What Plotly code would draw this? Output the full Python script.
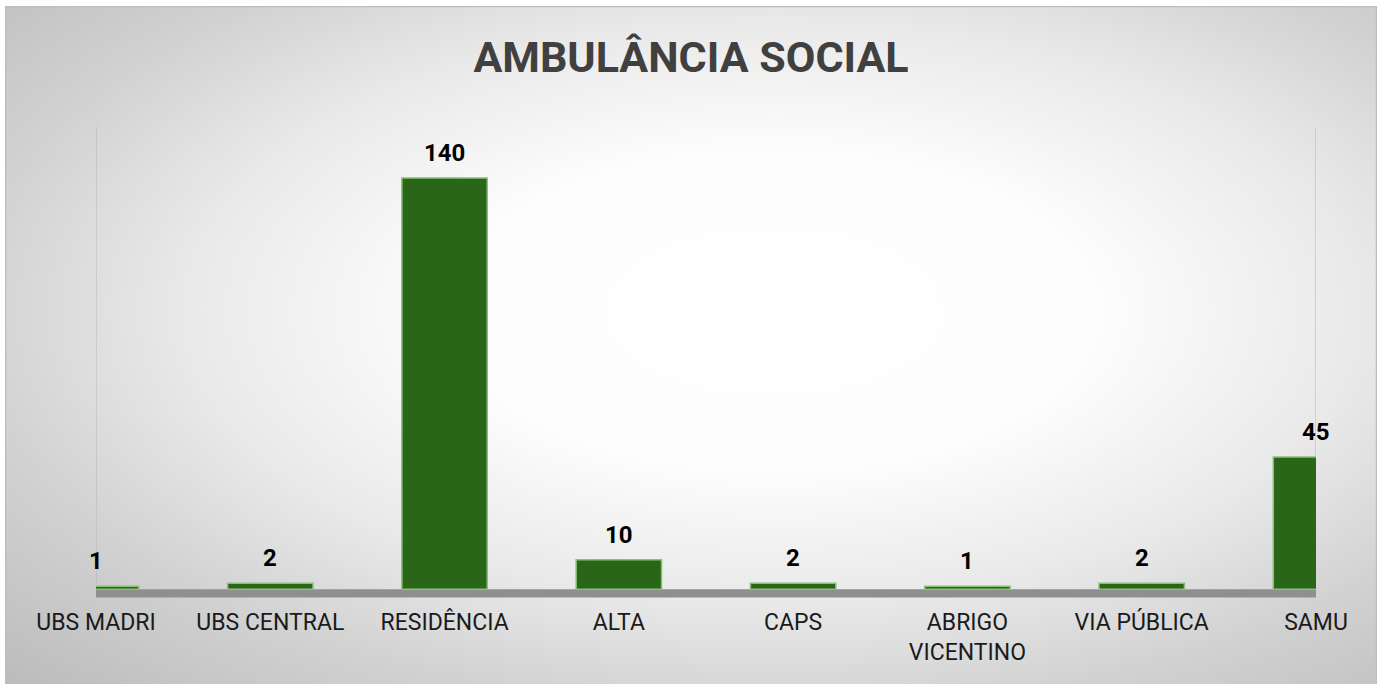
import base64
import plotly.graph_objects as go

categories = ["UBS MADRI", "UBS CENTRAL", "RESIDÊNCIA", "ALTA", "CAPS",
              "ABRIGO<br>VICENTINO", "VIA PÚBLICA", "SAMU"]
values = [1, 2, 140, 10, 2, 1, 2, 45]
title_text = "AMBULÂNCIA SOCIAL"

W, H = 1382, 684
L, R, T, B = 96, 66, 127, 86
plot_w = W - L - R
plot_h = H - T - B
y_min, y_max = -3.0, 157.4

positions = list(range(len(categories)))

# background radial gradient (SVG)
svg = f'''<svg xmlns="http://www.w3.org/2000/svg" width="1372" height="678" viewBox="0 0 1372 678" preserveAspectRatio="none">
<defs><radialGradient id="g" cx="0.56" cy="0.45" r="0.78" fx="0.56" fy="0.45">
<stop offset="0" stop-color="#ffffff"/>
<stop offset="0.30" stop-color="#fdfdfd"/>
<stop offset="0.55" stop-color="#e9e9e9"/>
<stop offset="0.75" stop-color="#d2d2d2"/>
<stop offset="1" stop-color="#bcbcbc"/>
</radialGradient></defs>
<rect x="0" y="0" width="1372" height="678" fill="url(#g)"/>
<rect x="0.5" y="0.5" width="1371" height="680" fill="none" stroke="#bdbdbd" stroke-width="1.5"/>
</svg>'''
src = "data:image/svg+xml;base64," + base64.b64encode(svg.encode()).decode()

box_x0, box_x1, box_y0, box_y1 = 5, 1377, 6, 684
img_x = (box_x0 - L) / plot_w
img_w = (box_x1 - box_x0) / plot_w
img_y = (H - B - box_y0) / plot_h
img_h = (box_y1 - box_y0) / plot_h

fig = go.Figure()
fig.add_trace(go.Bar(
    x=positions, y=values, width=0.49,
    marker=dict(color="#2a6617", line=dict(color="#8cc07a", width=1.5)),
    hoverinfo="skip", showlegend=False,
))

annotations = []
for p, v in zip(positions, values):
    annotations.append(dict(
        x=p, y=v, xref="x", yref="y", text=str(v), showarrow=False,
        yanchor="bottom", yshift=9,
        font=dict(family="Roboto", size=24, color="#000000", weight="bold"),
    ))

shapes = [
    dict(type="rect", xref="x", yref="y", x0=0, x1=7, y0=-2.8, y1=0,
         fillcolor="#8f8f8f", line=dict(width=0), layer="below"),
    dict(type="line", xref="x", yref="y", x0=0, x1=0, y0=0, y1=y_max,
         line=dict(color="#b5b5b5", width=1), layer="below"),
    dict(type="line", xref="x", yref="y", x0=7, x1=7, y0=0, y1=y_max,
         line=dict(color="#b5b5b5", width=1), layer="below"),
]

fig.update_layout(
    width=W, height=H,
    margin=dict(l=L, r=R, t=T, b=B, autoexpand=False),
    paper_bgcolor="#ffffff", plot_bgcolor="rgba(0,0,0,0)",
    title=dict(text=title_text, x=0.5, xanchor="center", y=1 - 57 / H,
               yanchor="middle", yref="container",
               font=dict(family="Roboto", size=43, color="#404040", weight="bold")),
    images=[dict(source=src, xref="paper", yref="paper", x=img_x, y=img_y,
                 sizex=img_w, sizey=img_h, xanchor="left", yanchor="top",
                 sizing="stretch", layer="below")],
    shapes=shapes,
    annotations=annotations,
    bargap=0.5,
)
fig.update_xaxes(range=[0, 7], tickvals=positions, ticktext=categories,
                 showgrid=False, zeroline=False, showline=False, ticks="",
                 tickfont=dict(family="Roboto", size=23, color="#1a1a1a"),
                 ticklabelstandoff=8)
fig.update_yaxes(range=[y_min, y_max], showgrid=False, zeroline=False,
                 showline=False, showticklabels=False, ticks="")

fig.write_html("out.html", config={"displayModeBar": False},
               post_script="document.body.style.margin='0px';document.body.style.overflow='hidden';")
